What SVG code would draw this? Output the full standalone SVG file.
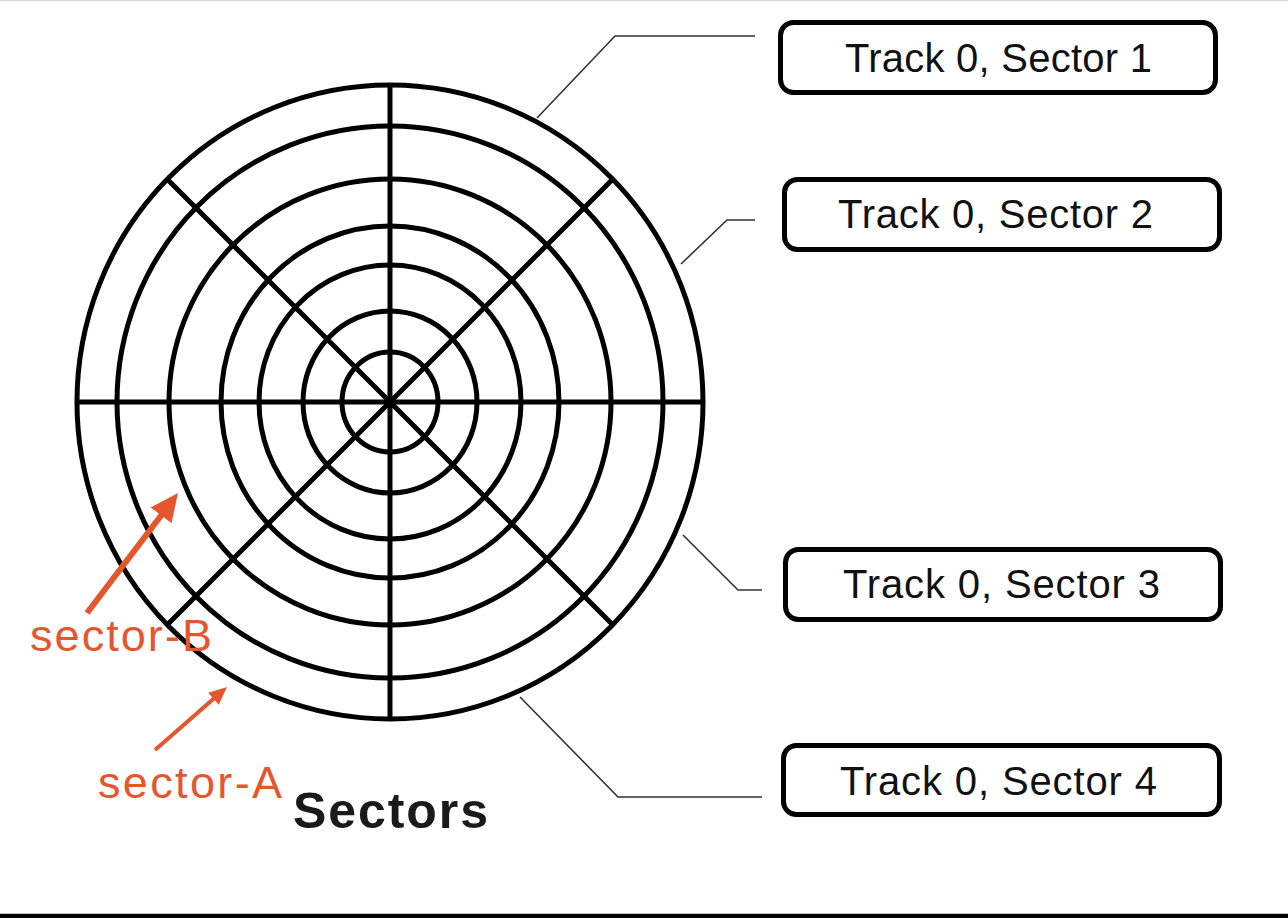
<svg xmlns="http://www.w3.org/2000/svg" width="1288" height="918" viewBox="0 0 1288 918">
  <style>
    .disk { fill: none; stroke: #000; stroke-width: 5; }
    .spoke { stroke: #000; stroke-width: 5; stroke-linecap: butt; }
    .box { fill: #fff; stroke: #000; stroke-width: 5; }
    .label { font-family: "Liberation Sans", Arial, sans-serif; font-size: 40px; fill: #111; }
    .leader { fill: none; stroke: #333; stroke-width: 1.6; }
    .anno { font-family: "Liberation Sans", Arial, sans-serif; font-size: 45px; fill: #E4572E; }
    .arrow { stroke: #E4572E; fill: none; }
  </style>
  <rect x="0" y="0" width="1288" height="918" fill="#fff"/>
  <line x1="0" y1="0.5" x2="1288" y2="0.5" stroke="#d8d8d8" stroke-width="1"/>
  <rect x="0" y="913" width="1288" height="1" fill="#bbb"/>
  <rect x="0" y="914" width="1288" height="4" fill="#000"/>

  <g id="disk">
    <ellipse class="disk" cx="390" cy="402" rx="313" ry="317"/>
    <ellipse class="disk" cx="390" cy="402" rx="273" ry="276"/>
    <ellipse class="disk" cx="390" cy="402" rx="221" ry="223"/>
    <ellipse class="disk" cx="390" cy="402" rx="169" ry="176"/>
    <ellipse class="disk" cx="390" cy="402" rx="131" ry="137"/>
    <ellipse class="disk" cx="390" cy="402" rx="87" ry="91"/>
    <ellipse class="disk" cx="390" cy="402" rx="48" ry="50"/>
    <line class="spoke" x1="77" y1="402" x2="703" y2="402"/>
    <line class="spoke" x1="390" y1="85" x2="390" y2="719"/>
    <line class="spoke" x1="167.3" y1="179.3" x2="612.7" y2="624.7"/>
    <line class="spoke" x1="612.7" y1="179.3" x2="167.3" y2="624.7"/>
  </g>

  <g id="connectors">
    <polyline class="leader" points="537,118 615,36 755,36"/>
    <polyline class="leader" points="681,264 727,220 755,220"/>
    <polyline class="leader" points="683,535 738,590 762,590"/>
    <polyline class="leader" points="520,697 618,797 762,797"/>
  </g>

  <g id="box1">
    <rect class="box" x="780.5" y="22.5" width="435" height="70" rx="13"/>
    <text class="label" x="845" y="72" textLength="307" lengthAdjust="spacing">Track 0, Sector 1</text>
  </g>
  <g id="box2">
    <rect class="box" x="784.5" y="179.5" width="435" height="70" rx="13"/>
    <text class="label" x="838" y="228" textLength="315" lengthAdjust="spacing">Track 0, Sector 2</text>
  </g>
  <g id="box3">
    <rect class="box" x="785.5" y="549.5" width="435" height="70" rx="13"/>
    <text class="label" x="843" y="598" textLength="317" lengthAdjust="spacing">Track 0, Sector 3</text>
  </g>
  <g id="box4">
    <rect class="box" x="783.5" y="745.5" width="436" height="69" rx="13"/>
    <text class="label" x="840" y="795" textLength="317" lengthAdjust="spacing">Track 0, Sector 4</text>
  </g>

  <g id="sector-b-annotation">
    <line class="arrow" x1="87" y1="613" x2="163" y2="513" stroke-width="6"/>
    <polygon points="178,493 171.5,523.2 150.7,507.4" fill="#E4572E"/>
    <text class="anno" x="30" y="651" textLength="182" lengthAdjust="spacing">sector-B</text>
  </g>
  <g id="sector-a-annotation">
    <line class="arrow" x1="155" y1="750" x2="215" y2="697.5" stroke-width="4"/>
    <polygon points="227,687 218.8,704.8 208.2,692.8" fill="#E4572E"/>
    <text class="anno" x="98" y="798" textLength="184" lengthAdjust="spacing">sector-A</text>
  </g>

  <g id="title">
    <text x="293" y="828" font-family="'Liberation Sans', Arial, sans-serif" font-size="50" font-weight="bold" fill="#1a1a1a" textLength="195" lengthAdjust="spacing">Sectors</text>
  </g>
</svg>
